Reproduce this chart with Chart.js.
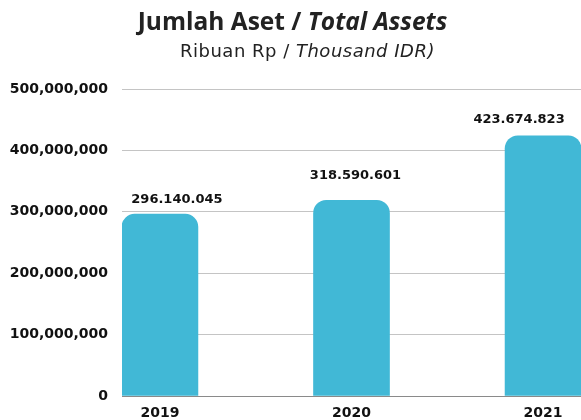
<!DOCTYPE html>
<html>
<head>
<meta charset="utf-8">
<script src="https://cdn.jsdelivr.net/npm/chart.js@4.4.1/dist/chart.umd.min.js"></script>
<style>
  html, body { margin: 0; padding: 0; background: #fff; }
  #wrap { position: relative; width: 581px; height: 420px; overflow: hidden; }
  #chart { position: absolute; left: 0; top: 0; }
  .title { position: absolute; left: 0; width: 581px; text-align: center; color: #222; white-space: nowrap; }
  #t1 { top: 4px; font: bold 24.5px "Open Sans", sans-serif; left: 2px; }
  #t2 { top: 40px; font: 18px "DejaVu Sans", sans-serif; letter-spacing: 0.5px; left: 17px; }
</style>
</head>
<body>
<div id="wrap">
  <canvas id="chart" width="581" height="420"></canvas>
  <div class="title" id="t1">Jumlah Aset / <i>Total Assets</i></div>
  <div class="title" id="t2">Ribuan Rp / <i>Thousand IDR)</i></div>
</div>
<script>
// data (ribuan Rp)
const years = [2019, 2020, 2021]
const totalAssets = [296140045, 318590601, 423674823]
const yTicks = [0, 100000000, 200000000, 300000000, 400000000, 500000000]

const barColor = '#41B8D6'
const numFont = 'DejaVu Sans'
// label nudges, as placed in the original (px)
const labelShiftX = [17, 4, -24]
const labelShiftY = [-15, -25, -16]

function dotted(v){
  return String(v).replace(/\B(?=(\d{3})+(?!\d))/g, '.')
}
function commas(v){
  return String(v).replace(/\B(?=(\d{3})+(?!\d))/g, ',')
}

//value labels above bars
const barLabels = {
  id: 'barLabels',
  afterDatasetsDraw(chart){
    const ctx = chart.ctx
    const meta = chart.getDatasetMeta(0)
    ctx.save()
    ctx.font = 'bold 13px ' + numFont
    ctx.fillStyle = '#111'
    ctx.textAlign = 'center'
    ctx.textBaseline = 'middle'
    meta.data.forEach((bar, i) => {
      ctx.fillText(dotted(totalAssets[i]), bar.x + labelShiftX[i], bar.y + labelShiftY[i])
    })
    ctx.restore()
  }
}

new Chart(document.getElementById('chart'), {
  type: 'bar',
  data: {
    labels: years,
    datasets: [{
      data: totalAssets,
      backgroundColor: barColor,
      barThickness: 76,
      borderRadius: { topLeft: 13, topRight: 13 },
      borderSkipped: 'bottom'
    }]
  },
  options: {
    responsive: false,
    animation: false,
    layout: { padding: { top: 89, right: 0, left: 0, bottom: 0 } },
    plugins: { legend: { display: false }, tooltip: { enabled: false }, title: { display: false } },
    scales: {
      x: {
        type: 'linear',
        offset: false,
        min: 2018.802,
        max: 2021.198,
        afterBuildTicks(s){ s.ticks = years.map(v => ({ value: v })) },
        afterFit(s){ s.height = 24 },
        grid: { display: false, drawTicks: false, offset: false },
        border: { display: true, color: '#8a8a8a', width: 1 },
        ticks: {
          padding: 9,
          color: '#111',
          font: { family: numFont, weight: 'bold', size: 14 },
          callback: v => String(v),
          maxRotation: 0,
          autoSkip: false
        }
      },
      y: {
        min: 0,
        max: 500000000,
        afterBuildTicks(s){ s.ticks = yTicks.map(v => ({ value: v })) },
        afterFit(s){ s.width = 122 },
        grid: {
          drawTicks: false,
          color: c => c.tick && c.tick.value === 0 ? '#8a8a8a' : '#c4c4c4',
          lineWidth: 1
        },
        border: { display: false },
        ticks: {
          padding: 14,
          color: '#111',
          font: { family: numFont, weight: 'bold', size: 14 },
          callback: v => commas(v)
        }
      }
    }
  },
  plugins: [barLabels]
})
</script>
</body>
</html>
